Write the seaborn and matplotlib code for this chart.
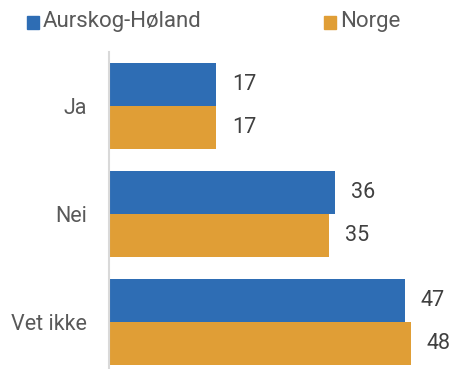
import matplotlib
matplotlib.use("Agg")
import matplotlib.pyplot as plt
import seaborn as sns
import pandas as pd

categories = ["Ja", "Nei", "Vet ikke"]
series = ["Aurskog-Høland", "Norge"]
aurskog = [17, 36, 47]
norge = [17, 35, 48]
colors = ["#2E6DB4", "#E09E36"]

df = pd.DataFrame({
    "svar": categories * 2,
    "verdi": aurskog + norge,
    "omrade": [series[0]] * 3 + [series[1]] * 3,
})

sns.set_theme(style="white")
plt.rcParams["font.family"] = ["Roboto", "DejaVu Sans"]

fig = plt.figure(figsize=(4.55, 3.69), dpi=100)
ax = fig.add_axes([109 / 455, 0.0, 1 - 109 / 455, (369 - 52) / 369])

sns.barplot(data=df, y="svar", x="verdi", hue="omrade", order=categories,
            hue_order=series, palette=colors, width=0.8, orient="h",
            saturation=1, ax=ax, legend=False, linewidth=0)

for cont in ax.containers:
    ax.bar_label(cont, labels=[f"{v:.0f}" for v in cont.datavalues],
                 padding=11.5, fontsize=15.5, color="#404040")

ax.set_xlim(0, 55)
ax.set_ylim(2.435, -0.5)
ax.set_xlabel("")
ax.set_ylabel("")
ax.set_xticks([])
ax.tick_params(axis="y", length=0, pad=16, labelsize=15.5, labelcolor="#595959")
for s in ["top", "right", "bottom"]:
    ax.spines[s].set_visible(False)
ax.spines["left"].set_color("#D9D9D9")
ax.spines["left"].set_linewidth(1.5)

# legend row along the top
for x0, name, c in [(27, series[0], colors[0]), (324, series[1], colors[1])]:
    fig.patches.append(plt.Rectangle((x0 / 455, 1 - 29 / 369), 12 / 455, 13 / 369,
                                     transform=fig.transFigure, color=c))
    fig.text((x0 + 16) / 455, 1 - 22 / 369, name, fontsize=16, color="#595959",
             va="center", ha="left")

fig.savefig("out.png", dpi=100)
